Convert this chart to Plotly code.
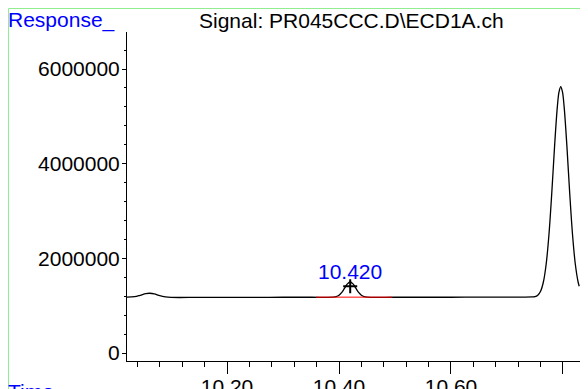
import plotly.graph_objects as go

# chromatogram trace (time in min, response counts)
time = [10.021, 10.035, 10.045, 10.055, 10.062, 10.070, 10.080, 10.090, 10.100,
        10.150, 10.200, 10.250, 10.300, 10.350, 10.390, 10.395, 10.400, 10.405,
        10.410, 10.415, 10.420, 10.425, 10.430, 10.435, 10.440, 10.445, 10.450,
        10.500, 10.550, 10.600, 10.650, 10.700, 10.745, 10.750, 10.755, 10.760,
        10.765, 10.770, 10.775, 10.780, 10.785, 10.790, 10.793, 10.796, 10.799,
        10.802, 10.807, 10.812, 10.817, 10.822, 10.827, 10.829]
response = [1180000, 1190000, 1220000, 1255000, 1262000, 1250000, 1210000, 1185000, 1175000,
            1175000, 1175000, 1176000, 1178000, 1178000, 1180000, 1190000, 1220000, 1280000,
            1370000, 1460000, 1500000, 1460000, 1370000, 1280000, 1220000, 1190000, 1180000,
            1178000, 1178000, 1178000, 1180000, 1180000, 1185000, 1190000, 1220000, 1305000,
            1500000, 1880000, 2510000, 3380000, 4370000, 5210000, 5520000, 5630000, 5520000,
            5210000, 4370000, 3380000, 2510000, 1880000, 1500000, 1410000]

# integration baseline under the labelled peak
base_time = [10.359, 10.495]
base_resp = [1180000, 1180000]

peak_rt = 10.420
peak_mark = 1410000
peak_label_y = 1730000

FONT = "Liberation Sans, Arial, sans-serif"
OFF = 8  # page body margin
W, H = 588 - OFF, 389 - OFF
L, R, T, B = 127 - OFF, 8, 32 - OFF, 28
pw, ph = W - L - R, H - T - B


# screen pixel -> paper coordinate
def px(x):
    return (x - OFF - L) / pw


def py(y):
    return (H - B - (y - OFF)) / ph


fig = go.Figure()
fig.add_trace(go.Scatter(x=time, y=response, mode="lines",
                         line=dict(color="black", width=1.3, shape="spline"),
                         showlegend=False, hoverinfo="skip"))
fig.add_trace(go.Scatter(x=base_time, y=base_resp, mode="lines",
                         line=dict(color="red", width=1), showlegend=False))
fig.add_trace(go.Scatter(x=[peak_rt], y=[peak_mark], mode="markers",
                         marker=dict(symbol="cross-thin", size=10,
                                     line=dict(color="black", width=2)),
                         showlegend=False))

fig.update_layout(
    width=W, height=H,
    margin=dict(l=L, r=R, t=T, b=B),
    plot_bgcolor="white", paper_bgcolor="white",
    font=dict(family=FONT, size=21, color="black"),
    xaxis=dict(range=[10.0214, 10.8304], tick0=10.0, dtick=0.2, tickformat=".2f",
               automargin=False, ticklabelstandoff=-5,
               showgrid=False, zeroline=False, showline=True, linecolor="black",
               linewidth=1, ticks="outside", ticklen=12, tickcolor="black",
               minor=dict(dtick=0.04, tick0=10.0, ticks="outside", ticklen=5,
                          tickcolor="black", showgrid=False)),
    yaxis=dict(range=[-169000, 6782000], tick0=0, dtick=2000000, tickformat="d",
               automargin=False, ticklabelstandoff=-2,
               showgrid=False, zeroline=False, showline=True, linecolor="black",
               linewidth=1, ticks="outside", ticklen=4, tickcolor="black",
               minor=dict(dtick=400000, tick0=0, ticks="outside", ticklen=2,
                          tickcolor="black", showgrid=False)),
    shapes=[dict(type="rect", xref="paper", yref="paper",
                 x0=px(8.5), x1=px(600), y0=py(400), y1=py(8.5),
                 line=dict(color="#90ee90", width=1), layer="below")],
    annotations=[
        dict(text="Signal: PR045CCC.D\\ECD1A.ch", xref="paper", yref="paper",
             x=px(351), y=py(21), xanchor="center", yanchor="middle",
             showarrow=False, font=dict(size=21, color="black")),
        dict(text="Response_", xref="paper", yref="paper",
             x=px(6), y=py(19.5), xanchor="left", yanchor="middle",
             showarrow=False, font=dict(size=21, color="blue")),
        dict(text="Time", xref="paper", yref="paper",
             x=px(6), y=py(391.5), xanchor="left", yanchor="middle",
             showarrow=False, font=dict(size=21, color="blue")),
        dict(text=f"{peak_rt:.3f}", xref="x", yref="y",
             x=peak_rt, y=peak_label_y, xanchor="center", yanchor="middle",
             showarrow=False, font=dict(size=21, color="blue")),
    ],
)

fig.write_html("out.html")
